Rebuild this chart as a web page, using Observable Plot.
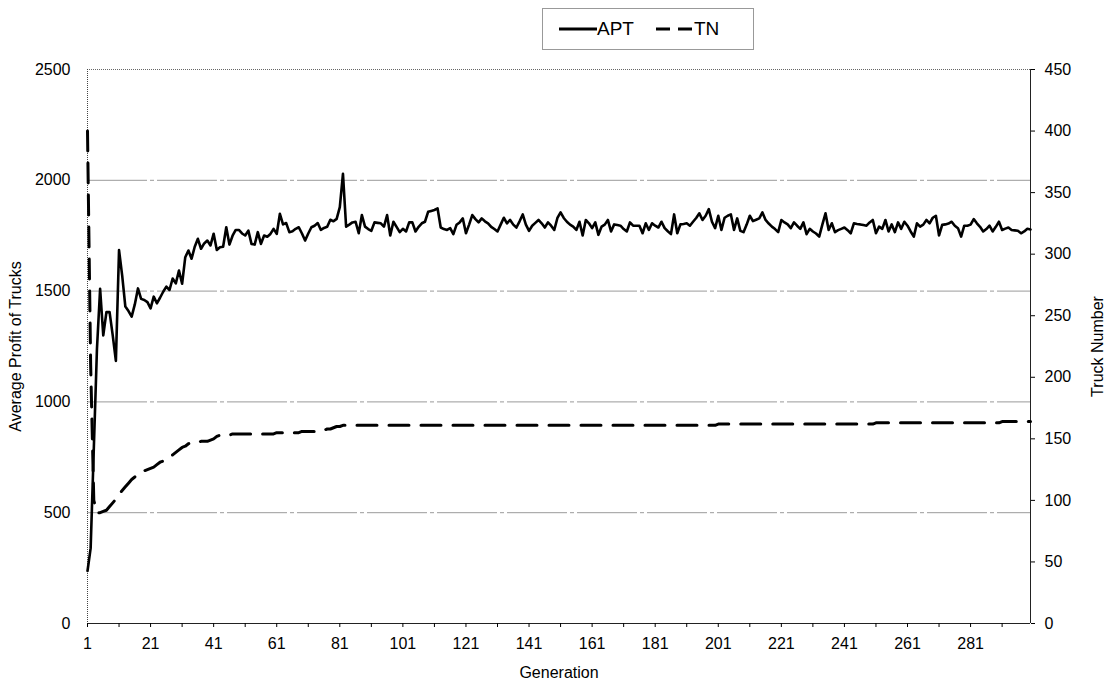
<!DOCTYPE html>
<html><head><meta charset="utf-8">
<script src="https://cdn.jsdelivr.net/npm/d3@7"></script>
<script src="https://cdn.jsdelivr.net/npm/@observablehq/plot@0.6"></script>
<style>
body{margin:0;background:#fff;font-family:"Liberation Sans",Arial,sans-serif;}
#legend{position:relative;width:1106px;height:58px;}
#legbox{position:absolute;left:542px;top:8px;width:212px;height:42px;border:1px solid #999;box-sizing:border-box;display:flex;align-items:center;font-size:19px;color:#000;}
#legbox svg{display:block}
.item{display:flex;align-items:center;}
</style></head><body>
<div id="legend"><div id="legbox">
<div class="item" style="margin-left:16px"><svg width="38" height="10"><line x1="0" y1="5" x2="38" y2="5" stroke="#000" stroke-width="3"/></svg><span>APT</span></div>
<div class="item" style="margin-left:22px"><svg width="38" height="10"><line x1="0" y1="5" x2="38" y2="5" stroke="#000" stroke-width="3" stroke-dasharray="14,8"/></svg><span>TN</span></div>
</div></div>
<div id="chart"></div>
<script>
const apt = [
237,340,790,1240,1510,1300,1405,1405,1300,1185,
1685,1570,1430,1410,1385,1440,1512,1465,1460,1450,
1422,1475,1445,1470,1497,1520,1505,1557,1535,1593,
1533,1653,1683,1646,1700,1736,1691,1715,1728,1706,
1759,1686,1698,1700,1788,1710,1750,1776,1776,1760,
1751,1773,1713,1710,1766,1713,1751,1745,1758,1781,
1758,1849,1801,1807,1766,1770,1781,1788,1760,1728,
1760,1788,1795,1807,1776,1785,1790,1822,1815,1826,
1879,2029,1791,1800,1810,1813,1761,1843,1791,1780,
1772,1810,1808,1806,1791,1843,1751,1813,1790,1766,
1781,1769,1810,1810,1769,1790,1806,1813,1858,1862,
1866,1873,1787,1780,1776,1784,1757,1799,1810,1828,
1761,1800,1843,1825,1810,1828,1815,1806,1790,1780,
1769,1800,1831,1806,1821,1800,1787,1815,1846,1800,
1772,1795,1808,1821,1806,1787,1810,1795,1776,1830,
1855,1830,1813,1800,1791,1776,1813,1751,1821,1806,
1784,1810,1754,1791,1800,1821,1769,1801,1798,1795,
1780,1769,1810,1795,1795,1795,1761,1806,1776,1806,
1795,1787,1813,1784,1770,1757,1846,1761,1801,1803,
1806,1795,1813,1830,1851,1821,1840,1870,1813,1784,
1840,1776,1831,1840,1846,1776,1828,1772,1766,1800,
1840,1816,1822,1828,1855,1821,1805,1791,1780,1766,
1821,1810,1801,1784,1810,1795,1781,1810,1757,1781,
1769,1760,1746,1800,1851,1776,1806,1766,1775,1781,
1787,1775,1761,1806,1803,1801,1798,1795,1810,1821,
1761,1791,1781,1821,1769,1801,1766,1810,1781,1813,
1795,1769,1746,1806,1791,1800,1821,1806,1831,1840,
1751,1799,1801,1805,1813,1795,1784,1746,1795,1795,
1800,1825,1806,1790,1769,1780,1795,1769,1790,1813,
1776,1782,1787,1776,1774,1772,1761,1769,1781,1778
];
const tn = [
400,210,100,90,90,91,92,95,98,101,
105,108,111,114,117,119,121,122,124,125,
126,127,129,131,132,133,135,137,139,141,
143,144,146,147,147,147,148,148,148,149,
150,152,153,153,153,153,154,154,154,154,
154,154,154,154,154,154,154,154,154,154,
155,155,155,155,155,155,155,155,156,156,
156,156,156,157,157,157,158,158,159,160,
160,161,161,161,161,161,161,161,161,161,
161,161,161,161,161,161,161,161,161,161,
161,161,161,161,161,161,161,161,161,161,
161,161,161,161,161,161,161,161,161,161,
161,161,161,161,161,161,161,161,161,161,
161,161,161,161,161,161,161,161,161,161,
161,161,161,161,161,161,161,161,161,161,
161,161,161,161,161,161,161,161,161,161,
161,161,161,161,161,161,161,161,161,161,
161,161,161,161,161,161,161,161,161,161,
161,161,161,161,161,161,161,161,161,161,
161,161,161,161,161,161,161,161,161,161,
162,162,162,162,162,162,162,162,162,162,
162,162,162,162,162,162,162,162,162,162,
162,162,162,162,162,162,162,162,162,162,
162,162,162,162,162,162,162,162,162,162,
162,162,162,162,162,162,162,162,162,162,
163,163,163,163,163,163,163,163,163,163,
163,163,163,163,163,163,163,163,163,163,
163,163,163,163,163,163,163,163,163,163,
163,163,163,163,163,163,163,163,163,163,
164,164,164,164,164,164,164,164,164,164
];
const profitTicks = [0,500,1000,1500,2000,2500];
const gridValues = [500,1000,1500,2000];
const truckTicks = [0,50,100,150,200,250,300,350,400,450];
const genLabels = [1,21,41,61,81,101,121,141,161,181,201,221,241,261,281];
const genMinor = [1,11,21,31,41,51,61,71,81,91,101,111,121,131,141,151,161,171,181,191,201,211,221,231,241,251,261,271,281,291];

const k = 2500 / 450;
const rows = apt.map((v, i) => ({gen: i + 1, apt: v, tn: tn[i]}));
const plain = d => String(d);

const chart = Plot.plot({
  width: 1106, height: 630,
  marginTop: 11, marginBottom: 65, marginLeft: 87, marginRight: 76,
  style: {fontFamily: "'Liberation Sans', Arial, sans-serif", fontSize: "16px", color: "#000", background: "#fff", overflow: "visible"},
  x: {domain: [1, 300]},
  y: {domain: [0, 2500]},
  marks: [
    Plot.ruleY(gridValues, {stroke: "#9a9a9a", strokeWidth: 1, strokeDasharray: "60,3,4,3"}),
    Plot.ruleY([2500], {stroke: "#666", strokeDasharray: "1,1"}),
    Plot.ruleX([1], {stroke: "#444", strokeDasharray: "1,1"}),
    Plot.ruleX([300], {stroke: "#222"}),
    Plot.ruleY([0], {stroke: "#222"}),
    Plot.axisX(genMinor, {tickSize: 4, tickFormat: () => "", label: null}),
    Plot.axisX(genLabels, {tickSize: 0, tickPadding: 14, tickFormat: plain, fontSize: 16, label: "Generation", labelAnchor: "center", labelOffset: 54, labelArrow: false}),
    Plot.axisY(profitTicks, {anchor: "left", tickSize: 0, tickPadding: 17, tickFormat: plain, fontSize: 16, label: "Average Profit of Trucks", labelAnchor: "center", labelOffset: 78, labelArrow: false}),
    Plot.axisY(truckTicks.map(t => t * k), {anchor: "right", tickSize: 4, tickPadding: 10, tickFormat: d => String(Math.round(d / k)), fontSize: 16, label: "Truck Number", labelAnchor: "center", labelOffset: 72, labelArrow: false}),
    Plot.line(rows, {x: "gen", y: "apt", stroke: "#000", strokeWidth: 2.6}),
    Plot.line(rows, {x: "gen", y: d => d.tn * k, stroke: "#000", strokeWidth: 3, strokeDasharray: "20,12"})
  ]
});
document.getElementById("chart").appendChild(chart);
</script>
</body></html>
